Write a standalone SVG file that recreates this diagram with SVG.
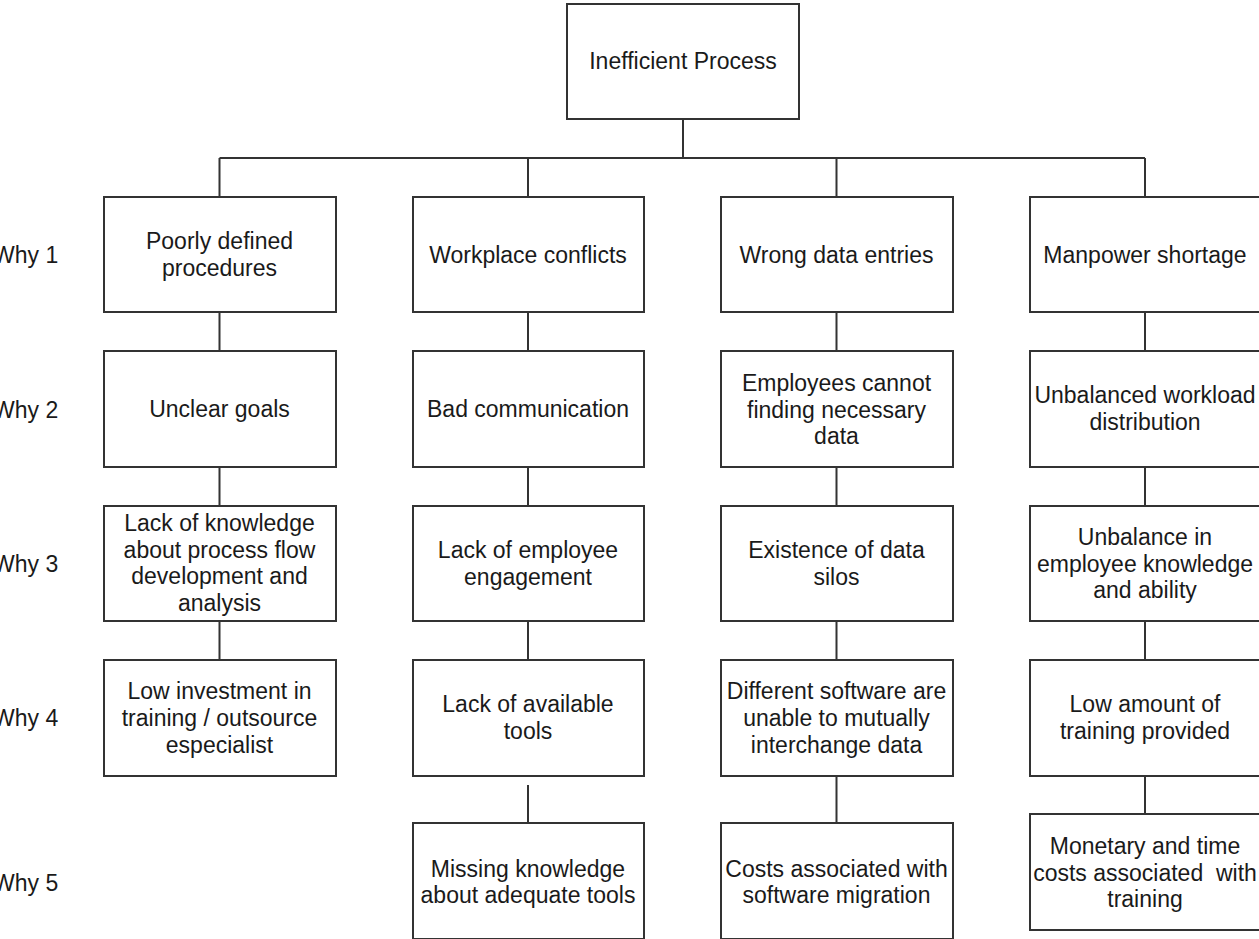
<svg xmlns="http://www.w3.org/2000/svg" width="1259" height="939" viewBox="0 0 1259 939">
  <style>
    .box { fill: #ffffff; stroke: #333333; stroke-width: 2; }
    .wire { fill: none; stroke: #333333; stroke-width: 2; }
    text { font-family: "Liberation Sans", Arial, sans-serif; font-size: 23px; fill: #1a1a1a; }
    .c { text-anchor: middle; }
    .pre { white-space: pre; }
  </style>
  <rect width="1259" height="939" fill="#ffffff"/>

  <!-- connectors -->
  <g id="connectors">
    <path class="wire" d="M683 119 V158 M219.5 158 H1145 M219.5 158 V197 M528 158 V197 M836.5 158 V197 M1145 158 V197"/>
    <path class="wire" d="M219.5 312 V351 M219.5 467 V506 M219.5 621 V660"/>
    <path class="wire" d="M528 312 V351 M528 467 V506 M528 621 V660 M528 785 V823"/>
    <path class="wire" d="M836.5 312 V351 M836.5 467 V506 M836.5 621 V660 M836.5 776 V823"/>
    <path class="wire" d="M1145 312 V351 M1145 467 V506 M1145 621 V660 M1145 776 V814"/>
  </g>

  <!-- level labels -->
  <g id="levels">
    <text x="-7" y="263">Why 1</text>
    <text x="-7" y="418">Why 2</text>
    <text x="-7" y="572">Why 3</text>
    <text x="-7" y="726">Why 4</text>
    <text x="-7" y="891">Why 5</text>
  </g>

  <g id="root">
    <rect class="box" x="567" y="4" width="232" height="115"/>
    <text class="c" x="683" y="69">Inefficient Process</text>
  </g>

  <!-- column 1 -->
  <g id="c1r1">
    <rect class="box" x="104" y="197" width="232" height="115"/>
    <text class="c" x="219.5" y="249">Poorly defined</text>
    <text class="c" x="219.5" y="276">procedures</text>
  </g>
  <g id="c1r2">
    <rect class="box" x="104" y="351" width="232" height="116"/>
    <text class="c" x="219.5" y="417">Unclear goals</text>
  </g>
  <g id="c1r3">
    <rect class="box" x="104" y="506" width="232" height="115"/>
    <text class="c" x="219.5" y="531">Lack of knowledge</text>
    <text class="c" x="219.5" y="558">about process flow</text>
    <text class="c" x="219.5" y="584">development and</text>
    <text class="c" x="219.5" y="611">analysis</text>
  </g>
  <g id="c1r4">
    <rect class="box" x="104" y="660" width="232" height="116"/>
    <text class="c" x="219.5" y="699">Low investment in</text>
    <text class="c" x="219.5" y="726">training / outsource</text>
    <text class="c" x="219.5" y="753">especialist</text>
  </g>

  <!-- column 2 -->
  <g id="c2r1">
    <rect class="box" x="413" y="197" width="231" height="115"/>
    <text class="c" x="528" y="263">Workplace conflicts</text>
  </g>
  <g id="c2r2">
    <rect class="box" x="413" y="351" width="231" height="116"/>
    <text class="c" x="528" y="417">Bad communication</text>
  </g>
  <g id="c2r3">
    <rect class="box" x="413" y="506" width="231" height="115"/>
    <text class="c" x="528" y="558">Lack of employee</text>
    <text class="c" x="528" y="585">engagement</text>
  </g>
  <g id="c2r4">
    <rect class="box" x="413" y="660" width="231" height="116"/>
    <text class="c" x="528" y="712">Lack of available</text>
    <text class="c" x="528" y="739">tools</text>
  </g>
  <g id="c2r5">
    <rect class="box" x="413" y="823" width="231" height="116"/>
    <text class="c" x="528" y="877">Missing knowledge</text>
    <text class="c" x="528" y="903">about adequate tools</text>
  </g>

  <!-- column 3 -->
  <g id="c3r1">
    <rect class="box" x="721" y="197" width="232" height="115"/>
    <text class="c" x="836.5" y="263">Wrong data entries</text>
  </g>
  <g id="c3r2">
    <rect class="box" x="721" y="351" width="232" height="116"/>
    <text class="c" x="836.5" y="391">Employees cannot</text>
    <text class="c" x="836.5" y="418">finding necessary</text>
    <text class="c" x="836.5" y="444">data</text>
  </g>
  <g id="c3r3">
    <rect class="box" x="721" y="506" width="232" height="115"/>
    <text class="c" x="836.5" y="558">Existence of data</text>
    <text class="c" x="836.5" y="585">silos</text>
  </g>
  <g id="c3r4">
    <rect class="box" x="721" y="660" width="232" height="116"/>
    <text class="c" x="836.5" y="699">Different software are</text>
    <text class="c" x="836.5" y="726">unable to mutually</text>
    <text class="c" x="836.5" y="753">interchange data</text>
  </g>
  <g id="c3r5">
    <rect class="box" x="721" y="823" width="232" height="116"/>
    <text class="c" x="836.5" y="877">Costs associated with</text>
    <text class="c" x="836.5" y="903">software migration</text>
  </g>

  <!-- column 4 -->
  <g id="c4r1">
    <rect class="box" x="1030" y="197" width="232" height="115"/>
    <text class="c" x="1145" y="263">Manpower shortage</text>
  </g>
  <g id="c4r2">
    <rect class="box" x="1030" y="351" width="232" height="116"/>
    <text class="c" x="1145" y="403">Unbalanced workload</text>
    <text class="c" x="1145" y="430">distribution</text>
  </g>
  <g id="c4r3">
    <rect class="box" x="1030" y="506" width="232" height="115"/>
    <text class="c" x="1145" y="545">Unbalance in</text>
    <text class="c" x="1145" y="572">employee knowledge</text>
    <text class="c" x="1145" y="598">and ability</text>
  </g>
  <g id="c4r4">
    <rect class="box" x="1030" y="660" width="232" height="116"/>
    <text class="c" x="1145" y="712">Low amount of</text>
    <text class="c" x="1145" y="739">training provided</text>
  </g>
  <g id="c4r5">
    <rect class="box" x="1030" y="814" width="232" height="116"/>
    <text class="c" x="1145" y="854">Monetary and time</text>
    <text class="c pre" x="1145" y="881">costs associated  with</text>
    <text class="c" x="1145" y="907">training</text>
  </g>
</svg>
